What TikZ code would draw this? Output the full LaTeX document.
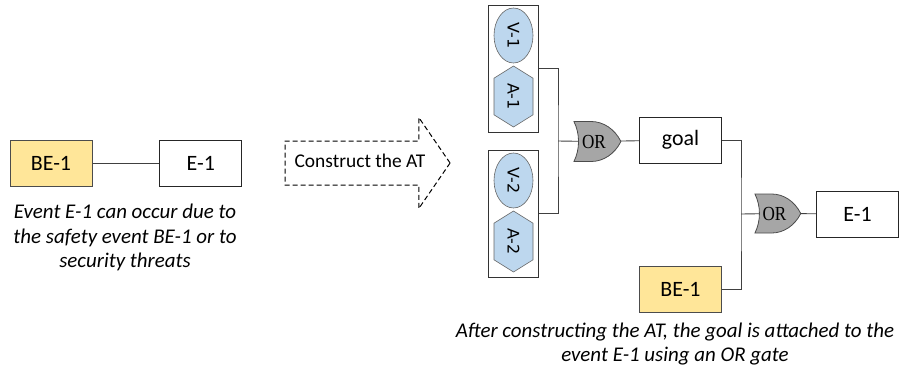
\documentclass[tikz,border=0pt]{standalone}
\usepackage{fontspec}
\setmainfont{Carlito}
\newfontfamily\vfont{DejaVu Sans}
\newfontfamily\gatefont{Liberation Serif}
\usetikzlibrary{
	shapes,shapes.arrows,shapes.symbols,shapes.gates.logic.US,backgrounds,positioning,calc
}
\definecolor{beyellow}{RGB}{255,230,153}
\definecolor{atblue}{RGB}{189,215,238}
\tikzset{
	event/.style={
		rectangle, minimum width=82bp, minimum height=46bp, inner sep=0pt,
		line width=0.8bp, draw=black!85, fill=white, font=\fontsize{22}{26}\selectfont
	},
	%
	basicevent/.style={
		event, fill=beyellow, draw=black!70
	},
	%
	group/.style={
		rectangle, minimum width=50bp, minimum height=127bp, inner sep=0pt,
		line width=0.8bp, draw=black!80
	},
	%
	vuln/.style={
		ellipse, rotate=-90, minimum width=55bp, minimum height=39bp, inner sep=0pt,
		line width=0.6bp, draw=black!60, fill=atblue, font=\vfont\fontsize{16}{18}\selectfont
	},
	%
	attack/.style={
		signal, signal to=east and west, signal pointer angle=116, rotate=-90,
		minimum width=61bp, minimum height=39bp, inner sep=0pt,
		line width=0.6bp, draw=black!60, fill=atblue, font=\vfont\fontsize{16}{18}\selectfont
	},
	%
	orgate/.style={
		or gate US, xscale=0.86, minimum height=40bp, inner sep=0pt,
		line width=0.8bp, draw=black!70, fill=black!35, font=\gatefont\fontsize{20}{22}\selectfont
	},
	%
	wire/.style={
		line width=0.9bp, draw=black!75
	},
	%
	mycaption/.style={
		align=center, font=\itshape\fontsize{21}{24.5}\selectfont
	}
}
\begin{document}
\begin{tikzpicture}[x=1bp, y=-1bp]
    \useasboundingbox (0,0) rectangle (905,371);
    % before
    \node(BE)[basicevent] at (51,163){BE-1};
    \node(E)[event, right=67bp of BE]{E-1};
    \node(note)[mycaption] at (125,237.5){Event E-1 can occur due to\\the safety event BE-1 or to\\security threats};
    \node(construct)[single arrow, draw, dashed, dash pattern=on 5bp off 3bp, line width=1bp,
        minimum height=165bp, single arrow head extend=23.5bp, single arrow tip angle=111,
        text height=13bp, text depth=4bp, inner ysep=13bp, inner xsep=2bp,
        font=\fontsize{19.5}{22}\selectfont] at (360,163){Construct the AT};
    % attack tree
    \node(AT1)[group] at (513,68.5){};
    \node(V1)[vuln] at (513.5,35.5){V-1};
    \node(A1)[attack] at (513.5,96.5){A-1};
    \node(AT2)[group] at (513,213.5){};
    \node(V2)[vuln] at (513.5,180.5){V-2};
    \node(A2)[attack] at (513.5,241.5){A-2};
    \coordinate(join1) at (558,141);
    \node(OR1)[orgate] at (594,141.5){OR};
    \node(goal)[event] at (680.5,140){goal};
    \coordinate(join2) at (741,214);
    \node(OR2)[orgate, minimum height=39bp] at (774.5,213.5){OR};
    \node(Er)[event] at (857.5,214){E-1};
    \node(BEr)[basicevent, below=103bp of goal]{BE-1};
    \node(result)[mycaption] at (675,344){After constructing the AT, the goal is attached to the\\event E-1 using an OR gate};
    % connectors
    \begin{scope}[on background layer]
    \draw[wire] (BE) -- (E);
    \draw[wire] (AT1) -| (join1) |- (AT2);
    \draw[wire] (join1) -- (OR1.center);
    \draw[wire] (OR1.center) -- (goal);
    \draw[wire] (goal) -| (join2) |- (BEr);
    \draw[wire] (join2) -- (OR2.center);
    \draw[wire] (OR2.center) -- (Er);
    \end{scope}
\end{tikzpicture}
\end{document}
